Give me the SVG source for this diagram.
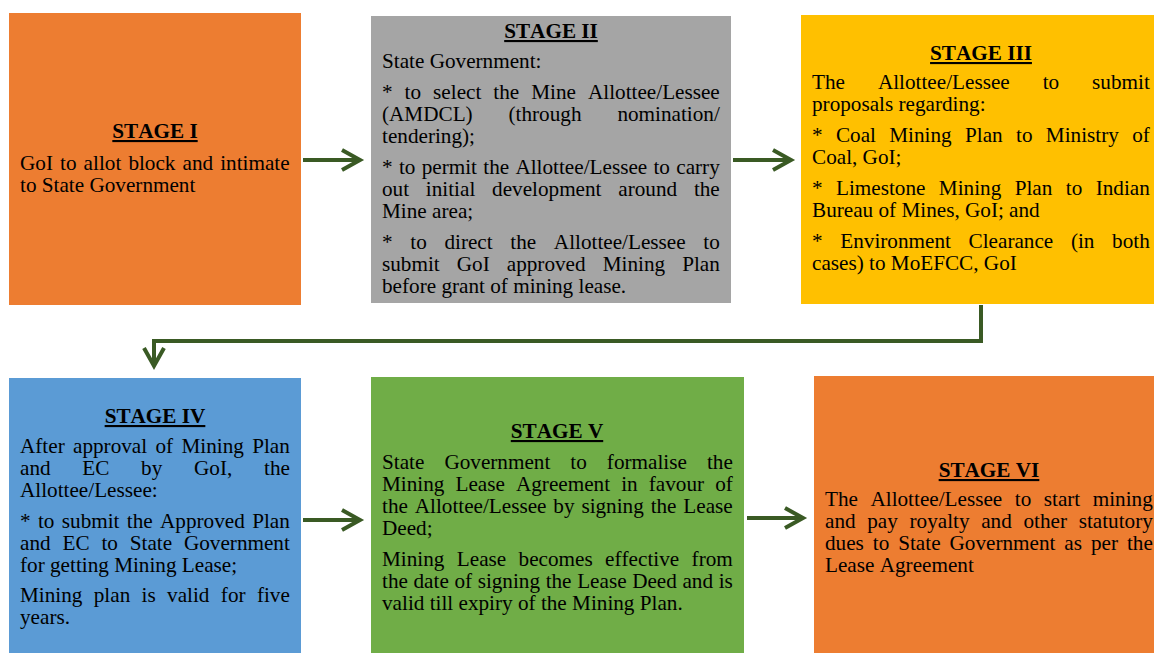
<svg xmlns="http://www.w3.org/2000/svg" width="1154" height="653" viewBox="0 0 1154 653">
<style>
.t{font-family:"Liberation Serif","Times New Roman",serif;font-size:21.2px;fill:#000;font-kerning:none}
.h{font-weight:bold;text-decoration:underline;text-anchor:middle}
.c{fill:none;stroke:#3A5A24;stroke-width:4}
</style>
<defs>
<marker id="chev" markerUnits="userSpaceOnUse" markerWidth="30" markerHeight="30" viewBox="-24 -15 30 30" refX="0" refY="0" orient="auto" overflow="visible">
<path d="M-18 -10 L0 0 L-18 10" fill="none" stroke="#3A5A24" stroke-width="4"/>
</marker>
</defs>
<rect width="1154" height="653" fill="#fff"/>

<g id="stage1">
<rect x="9" y="13" width="292" height="292" fill="#ED7D31"/>
<text class="t h" x="155" y="138">STAGE I</text>
<text class="t" x="20" y="170" word-spacing="1.8">GoI to allot block and intimate</text>
<text class="t" x="20" y="192">to State Government</text>
</g>

<g id="stage2">
<rect x="371" y="16" width="360" height="287" fill="#A5A5A5"/>
<text class="t h" x="551" y="38">STAGE II</text>
<text class="t" x="382" y="68">State Government:</text>
<text class="t" x="382" y="99" word-spacing="6.72">* to select the Mine Allottee/Lessee</text>
<text class="t" x="382" y="121" word-spacing="30.6">(AMDCL) (through nomination/</text>
<text class="t" x="382" y="143">tendering);</text>
<text class="t" x="382" y="174" word-spacing="0.99">* to permit the Allottee/Lessee to carry</text>
<text class="t" x="382" y="196" word-spacing="11.48">out initial development around the</text>
<text class="t" x="382" y="218">Mine area;</text>
<text class="t" x="382" y="249" word-spacing="12.37">* to direct the Allottee/Lessee to</text>
<text class="t" x="382" y="271" word-spacing="11.77">submit GoI approved Mining Plan</text>
<text class="t" x="382" y="293">before grant of mining lease.</text>
</g>

<g id="stage3">
<rect x="801" y="15" width="353" height="289" fill="#FFC000"/>
<text class="t h" x="981" y="60">STAGE III</text>
<text class="t" x="812" y="89" word-spacing="27.67">The Allottee/Lessee to submit</text>
<text class="t" x="812" y="111">proposals regarding:</text>
<text class="t" x="812" y="142" word-spacing="8.04">* Coal Mining Plan to Ministry of</text>
<text class="t" x="812" y="164">Coal, GoI;</text>
<text class="t" x="812" y="195" word-spacing="8.12">* Limestone Mining Plan to Indian</text>
<text class="t" x="812" y="217">Bureau of Mines, GoI; and</text>
<text class="t" x="812" y="248" word-spacing="12.37">* Environment Clearance (in both</text>
<text class="t" x="812" y="270">cases) to MoEFCC, GoI</text>
</g>

<g id="stage4">
<rect x="9" y="378" width="292" height="275" fill="#5B9BD5"/>
<text class="t h" x="155" y="423">STAGE IV</text>
<text class="t" x="20" y="453" word-spacing="3.03">After approval of Mining Plan</text>
<text class="t" x="20" y="475" word-spacing="26.43">and EC by GoI, the</text>
<text class="t" x="20" y="497">Allottee/Lessee:</text>
<text class="t" x="20" y="528" word-spacing="2.06">* to submit the Approved Plan</text>
<text class="t" x="20" y="550" word-spacing="6.56">and EC to State Government</text>
<text class="t" x="20" y="572">for getting Mining Lease;</text>
<text class="t" x="20" y="602" word-spacing="6.07">Mining plan is valid for five</text>
<text class="t" x="20" y="624">years.</text>
</g>

<g id="stage5">
<rect x="371" y="377" width="373" height="276" fill="#70AD47"/>
<text class="t h" x="557" y="438">STAGE V</text>
<text class="t" x="382" y="469" word-spacing="14.74">State Government to formalise the</text>
<text class="t" x="382" y="491" word-spacing="5.79">Mining Lease Agreement in favour of</text>
<text class="t" x="382" y="513" word-spacing="1.55">the Allottee/Lessee by signing the Lease</text>
<text class="t" x="382" y="535">Deed;</text>
<text class="t" x="382" y="566" word-spacing="7.1">Mining Lease becomes effective from</text>
<text class="t" x="382" y="588" word-spacing="0.31">the date of signing the Lease Deed and is</text>
<text class="t" x="382" y="610">valid till expiry of the Mining Plan.</text>
</g>

<g id="stage6">
<rect x="814" y="376" width="340" height="277" fill="#ED7D31"/>
<text class="t h" x="989" y="477">STAGE VI</text>
<text class="t" x="825" y="506" word-spacing="7.22">The Allottee/Lessee to start mining</text>
<text class="t" x="825" y="528" word-spacing="6.37">and pay royalty and other statutory</text>
<text class="t" x="825" y="550" word-spacing="3.64">dues to State Government as per the</text>
<text class="t" x="825" y="572">Lease Agreement</text>
</g>

<g id="connectors">
<path class="c" d="M303 160 H360" marker-end="url(#chev)"/>
<path class="c" d="M733 160 H791" marker-end="url(#chev)"/>
<path class="c" d="M981 305 V341 H154 V366" marker-end="url(#chev)"/>
<path class="c" d="M303 520 H360" marker-end="url(#chev)"/>
<path class="c" d="M747 518 H803" marker-end="url(#chev)"/>
</g>
</svg>
